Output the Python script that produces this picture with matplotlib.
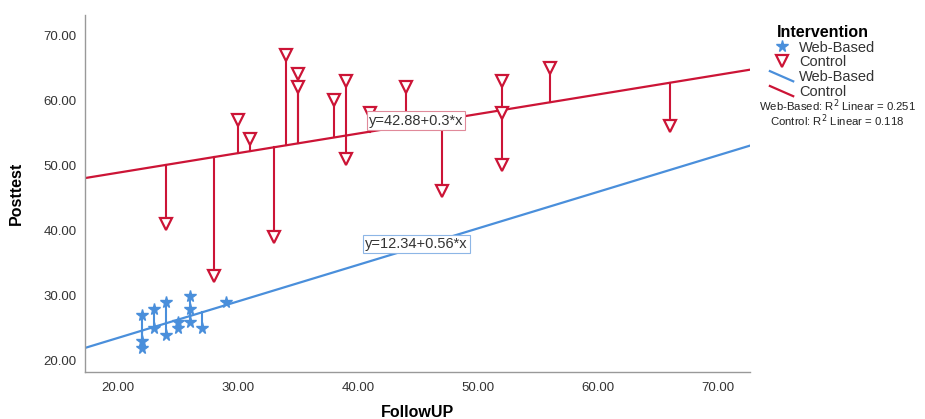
import numpy as np
import matplotlib.pyplot as plt
from matplotlib.lines import Line2D
from matplotlib.legend_handler import HandlerBase

plt.rcParams['font.family'] = ['Liberation Sans', 'DejaVu Sans']

# data
web_x = [22, 22, 22, 23, 23, 24, 24, 25, 25, 26, 26, 26, 27, 29]
web_y = [27, 23, 22, 28, 25, 29, 24, 26, 25, 30, 28, 26, 25, 29]
ctrl_x = [24, 28, 30, 31, 33, 34, 35, 35, 38, 39, 39, 41, 44, 47, 52, 52, 52, 56, 66]
ctrl_y = [41, 33, 57, 54, 39, 67, 64, 62, 60, 63, 51, 58, 62, 46, 63, 58, 50, 65, 56]

# fit lines (intercept, slope) and R2 as printed
web_fit = (12.34, 0.56)
ctrl_fit = (42.88, 0.3)
web_r2 = 0.251
ctrl_r2 = 0.118

x_ticks = [20, 30, 40, 50, 60, 70]
y_ticks = [20, 30, 40, 50, 60, 70]

blue = '#4A8FDB'
red = '#CC1436'

fig = plt.figure(figsize=(9.25, 4.19), dpi=100)
ax = fig.add_axes([0.0919, 0.1122, 0.7189, 0.852])
xmin, xmax = 17.25, 72.67
ax.set_xlim(xmin, xmax)
ax.set_ylim(18.31, 73.07)

xx = np.array([xmin, xmax])

# fit lines
ax.plot(xx, web_fit[0] + web_fit[1] * xx, color=blue, lw=1.6, zorder=2)
ax.plot(xx, ctrl_fit[0] + ctrl_fit[1] * xx, color=red, lw=1.6, zorder=2)

# residual drop lines
for x, y in zip(web_x, web_y):
    ax.plot([x, x], [y, web_fit[0] + web_fit[1] * x], color=blue, lw=1.5, zorder=2)
for x, y in zip(ctrl_x, ctrl_y):
    ax.plot([x, x], [y, ctrl_fit[0] + ctrl_fit[1] * x], color=red, lw=1.5, zorder=2)

# points
ax.plot(web_x, web_y, ls='none', marker='*', ms=8.5, color=blue, mec=blue, zorder=3)
ax.plot(ctrl_x, ctrl_y, ls='none', marker='v', ms=9, mfc='white', mec=red, mew=1.6, zorder=3)

# equation labels
ax.text(40.9, 55.8, 'y=42.88+0.3*x', fontsize=10.5, color='#333333', ha='left', va='bottom',
        bbox=dict(boxstyle='square,pad=0.15', fc='white', ec='#E08A9A', lw=0.8), zorder=4)
ax.text(40.6, 36.9, 'y=12.34+0.56*x', fontsize=10.5, color='#333333', ha='left', va='bottom',
        bbox=dict(boxstyle='square,pad=0.15', fc='white', ec='#8DB6E6', lw=0.8), zorder=4)

ax.set_xticks(x_ticks)
ax.set_yticks(y_ticks)
ax.set_xticklabels(['%.2f' % v for v in x_ticks])
ax.set_yticklabels(['%.2f' % v for v in y_ticks])
ax.tick_params(length=0, labelsize=9.5, colors='#333333')
ax.tick_params(axis='y', pad=6)
ax.tick_params(axis='x', pad=7)
for s in ['top', 'right']:
    ax.spines[s].set_visible(False)
for s in ['left', 'bottom']:
    ax.spines[s].set_color('#999999')
    ax.spines[s].set_linewidth(1.0)

ax.set_xlabel('FollowUP', fontsize=11.5, fontweight='bold', labelpad=8)
ax.set_ylabel('Posttest', fontsize=11.5, fontweight='bold', labelpad=14)


class DiagLine(HandlerBase):
    def create_artists(self, legend, orig_handle, xdescent, ydescent, width, height, fontsize, trans):
        ln = Line2D([-xdescent, -xdescent + width], [-ydescent + height, -ydescent],
                    color=orig_handle.get_color(), lw=orig_handle.get_linewidth(), transform=trans)
        return [ln]


handles = [
    Line2D([], [], ls='none', marker='*', ms=8.5, color=blue),
    Line2D([], [], ls='none', marker='v', ms=9, mfc='white', mec=red, mew=1.6),
    Line2D([], [], color=blue, lw=1.6),
    Line2D([], [], color=red, lw=1.6),
]
labels = ['Web-Based', 'Control', 'Web-Based', 'Control']
leg = fig.legend(handles, labels, loc='upper left', bbox_to_anchor=(0.826, 0.955),
                 frameon=False, fontsize=10.5, title='Intervention', handlelength=1.6,
                 handletextpad=0.4, labelspacing=0.06, borderaxespad=0,
                 handler_map={handles[2]: DiagLine(), handles[3]: DiagLine()})
leg.get_title().set_fontweight('bold')
leg.get_title().set_fontsize(11.5)
for t in leg.get_texts():
    t.set_color('#333333')

fig.text(0.905, 1 - 106 / 419, 'Web-Based: R$^2$ Linear = %.3f' % web_r2, fontsize=8.2,
         ha='center', va='center', color='#222222')
fig.text(0.905, 1 - 121 / 419, 'Control: R$^2$ Linear = %.3f' % ctrl_r2, fontsize=8.2,
         ha='center', va='center', color='#222222')

fig.savefig('out.png', dpi=100)
